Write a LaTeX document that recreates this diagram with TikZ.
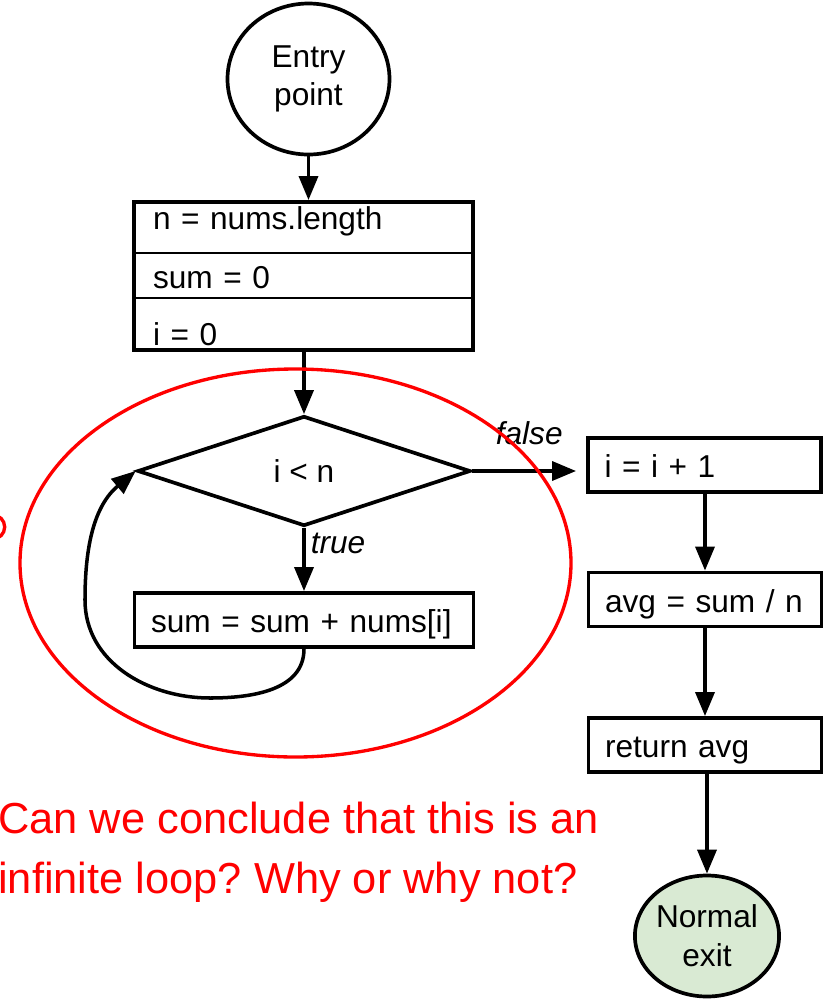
\documentclass[tikz,border=0pt]{standalone}
\usepackage{fontspec}
\setmainfont{Liberation Sans}
\usetikzlibrary{arrows.meta,positioning,shapes.geometric,fit}
\definecolor{exitgreen}{HTML}{D9EAD3}
\frenchspacing

\begin{document}
\begin{tikzpicture}[
  every node/.style={font=\fontsize{18}{22}\selectfont},
  term/.style={draw=black,ellipse,line width=2.1pt,align=center,inner sep=0pt},
  row/.style={draw=black,line width=1.1pt,outer sep=0pt,align=left,inner xsep=0.38cm,inner ysep=0pt,text width=6.02cm},
  frame/.style={draw=black,line width=2.2pt,inner sep=0pt},
  stmt/.style={draw=black,line width=2.2pt,align=left,inner xsep=0.33cm,inner ysep=0pt,text width=#1,minimum height=1.08cm,text height=0.5cm,text depth=0pt},
  cond/.style={draw=black,diamond,line width=2.1pt,minimum width=6.66cm,minimum height=2.2cm,inner sep=0pt},
  lbl/.style={font=\fontsize{18}{22}\selectfont\itshape,inner sep=0pt},
  loopmark/.style={draw=red,line width=1.9pt},
  question/.style={text=red,align=left,inner sep=0pt,font=\fontsize{24.7}{34.1}\selectfont},
  arr/.style={-{Triangle[length=0.48cm,width=0.38cm]},line width=2pt}]
\useasboundingbox (0,0) rectangle (16.54,-20.02);
\node[term,minimum width=3.24cm,minimum height=3.02cm] (entry) at (6.17,-1.58) {Entry\\point};
\node[row,minimum height=1.02cm,text height=0.5cm,text depth=0.44cm] (r1) at (6.07,-4.55) {n = nums.length};
\node[row,minimum height=0.9cm,text height=0.5cm,text depth=0pt,below=0pt of r1] (r2) {sum = 0};
\node[row,minimum height=1.04cm,text height=0.86cm,text depth=0.02cm,below=0pt of r2] (r3) {i = 0};
\node[frame,fit=(r1)(r3)] (init) {};
\node[cond] (dia) at (6.08,-9.42) {i < n};
\node[stmt=6.12cm] (body) at (6.08,-12.4) {sum = sum + nums[i]};
\node[stmt=4.0cm] (inc) at (14.09,-9.3) {i = i + 1};
\node[stmt=4.0cm] (avg) at (14.1,-11.99) {avg = sum / n};
\node[stmt=4.0cm] (ret) at (14.1,-14.9) {return avg};
\node[term,fill=exitgreen,minimum width=2.82cm,minimum height=2.42cm] (exit) at (14.14,-18.72) {Normal\\exit};
\coordinate (loopbot) at (4.2,-13.96);
\coordinate (loopleft) at (1.7,-12.0);
\draw[arr] (entry.south) -- (entry.south |- init.north);
\draw[arr] (init.south -| dia.north) -- (dia.north);
\draw[arr] (dia.south) -- node[lbl,anchor=north west,pos=0,xshift=0.1cm,yshift=-0.06cm] {true} (body.north);
\draw[arr,shorten >=0.2cm] (dia.east) -- node[lbl,above=0.48cm] {false} (dia.east -| inc.west);
\foreach \a/\b in {inc/avg,avg/ret} \draw[arr] (\a.south -| \b.north) -- (\b.north);
\draw[arr] (ret.south -| exit.north) -- (exit.north);
\draw[arr] (body.south) to[out=-90,in=0] (loopbot) to[out=180,in=-90] (loopleft) to[out=90,in=-140] (dia.west);
\draw[loopmark] (5.91,-11.26) ellipse [x radius=5.51cm,y radius=3.88cm];
\draw[loopmark] (-0.146,-10.54) circle [radius=0.24cm];
\node[question,anchor=north west] (quest) at (-0.04,-16.04) {Can we conclude that this is an\\infinite loop? Why or why not?};
\end{tikzpicture}
\end{document}
